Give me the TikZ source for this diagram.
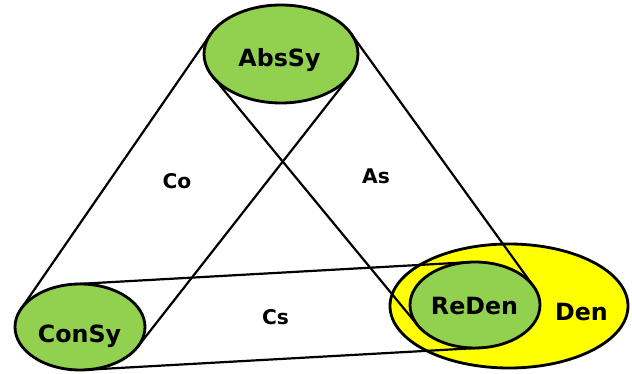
\documentclass[tikz,border=0pt]{standalone}
\usepackage{fontspec}
\setmainfont{DejaVu Sans}
\usetikzlibrary{shapes.geometric}

\definecolor{leaf}{HTML}{92D050}
\definecolor{sun}{HTML}{FFFF00}

\tikzset{
  sys/.style={ellipse,draw,line width=1.6pt,fill=leaf,inner sep=0pt,outer sep=0pt,
              minimum width=2.6cm,minimum height=1.72cm},
  big/.style={font=\fontsize{13.5}{15}\selectfont\bfseries},
  small/.style={font=\fontsize{11.5}{13}\selectfont\bfseries},
  side/.style={line width=1.25pt},
}

\begin{document}
\begin{tikzpicture}
		\useasboundingbox (0,0) rectangle (12.64,7.48);
		% the big yellow set first, everything else sits on it
		\node[ellipse,draw,line width=1.6pt,fill=sun,inner sep=0pt,outer sep=0pt,
		      minimum width=4.76cm,minimum height=2.48cm] (den) at (10.18,1.36) {};
		\node[sys,minimum width=3.08cm,minimum height=1.96cm] (abs) at (5.62,6.40) {};
		\node[sys] (con) at (1.60,0.94) {};
		\node[sys] (reden) at (9.50,1.38) {};
		% outer tangents between each pair
		\draw[side] (abs.164.4) -- (con.163.2);
		\draw[side] (abs.342.4) -- (con.341.1);
		\draw[side] (abs.16.3) -- (reden.17.6);
		\draw[side] (abs.198.5) -- (reden.199.8);
		\draw[side] (con.97.3) -- (reden.97.3);
		\draw[side] (con.277.3) -- (reden.277.3);
		% names
		\node[big] (abs-t) at (5.59,6.28) {AbsSy};
		\node[big] (con-t) at (1.59,0.75) {ConSy};
		\node[big] (reden-t) at (9.49,1.35) {ReDen};
		\node[big] (den-t) at (11.63,1.23) {Den};
		\node[small] (co) at (3.54,3.85) {Co};
		\node[small] (as) at (7.52,3.96) {As};
		\node[small] (cs) at (5.51,1.13) {Cs};
		\end{tikzpicture}
\end{document}
